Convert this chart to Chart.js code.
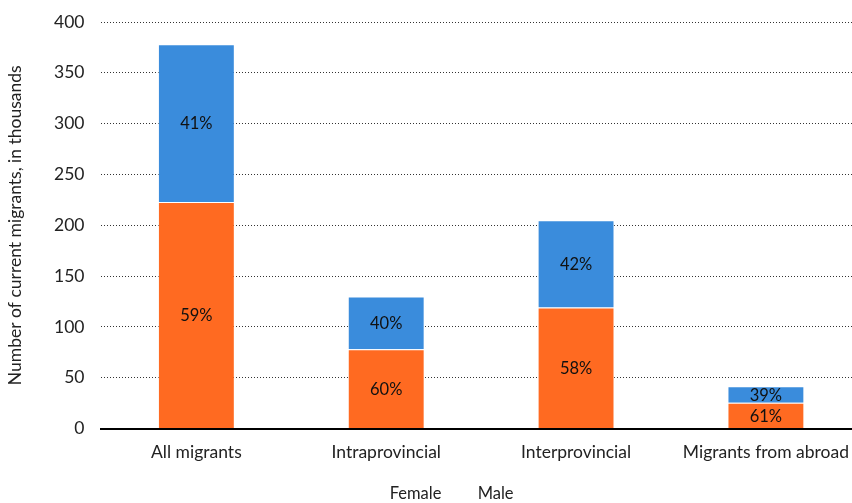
<!DOCTYPE html>
<html>
<head>
<meta charset="utf-8">
<script src="https://cdn.jsdelivr.net/npm/chart.js@4.4.1/dist/chart.umd.min.js"></script>
<style>
  html, body { margin: 0; padding: 0; background: #fff; overflow: hidden; }
  #wrap { width: 862px; height: 503px; position: relative; }
</style>
</head>
<body>
<div id="wrap"><canvas id="chart"></canvas></div>
<script>
const categories = ['All migrants', 'Intraprovincial', 'Interprovincial', 'Migrants from abroad'];
const female = [223, 78, 119, 25.3];
const male = [155, 52, 86, 16.2];
const yTicks = [0, 50, 100, 150, 200, 250, 300, 350, 400];

const FONT = 'Lato, "Open Sans", sans-serif';

// percentage share of each segment, written in the middle of the bar
const shareLabels = {
    id: 'shareLabels',
    afterDatasetsDraw(chart) {
        const ctx = chart.ctx;
        ctx.save();
        ctx.font = '16.5px ' + FONT;
        ctx.fillStyle = '#111';
        ctx.textAlign = 'center';
        ctx.textBaseline = 'middle';
        chart.data.datasets.forEach((ds, di) => {
            const meta = chart.getDatasetMeta(di);
            meta.data.forEach((bar, i) => {
                const total = female[i] + male[i];
                const pct = Math.round(ds.data[i] / total * 100) + '%';
                const mid = (bar.y + bar.base) / 2;
                ctx.fillText(pct, bar.x, mid + 1);
            });
        });
        ctx.restore();
    }
};

const ctx = document.getElementById('chart').getContext('2d');
new Chart(ctx, {
    type: 'bar',
    data: {
        labels: categories,
        datasets: [{
            label: 'Female',
            data: female,
            backgroundColor: '#FF6A21',
            borderColor: 'rgba(255,255,255,0.45)',
            borderWidth: 1,
            categoryPercentage: 1,
            barPercentage: 0.405,
        }, {
            label: 'Male',
            data: male,
            backgroundColor: '#3A8CDC',
            borderColor: 'rgba(255,255,255,0.45)',
            borderWidth: 1,
            categoryPercentage: 1,
            barPercentage: 0.405,
        }]
    },
    options: {
        responsive: true,
        maintainAspectRatio: false,
        animation: false,
        layout: { padding: { top: 0, left: 5, right: 0, bottom: -9 } },
        plugins: {
            tooltip: { enabled: false },
            legend: {
                position: 'bottom',
                labels: {
                    boxWidth: 28,
                    boxHeight: 0,
                    padding: 0,
                    color: '#222',
                    font: { family: FONT, size: 16.5 },
                    // no swatches, just the names
                    generateLabels(chart) {
                        return chart.data.datasets.map((ds, i) => ({
                            text: ds.label,
                            fillStyle: 'rgba(0,0,0,0)',
                            strokeStyle: 'rgba(0,0,0,0)',
                            lineWidth: 0,
                            fontColor: '#222',
                            datasetIndex: i,
                            hidden: false,
                        }));
                    }
                }
            }
        },
        scales: {
            x: {
                stacked: true,
                grid: { display: false, drawTicks: false },
                border: { display: true, color: '#000', width: 2 },
                ticks: {
                    color: '#222',
                    padding: 13,
                    font: { family: FONT, size: 17.5 },
                    maxRotation: 0,
                },
                afterFit(axis) {
                    axis.height += 10;
                }
            },
            y: {
                stacked: true,
                min: 0,
                max: 400,
                afterBuildTicks(axis) {
                    axis.ticks = yTicks.map(v => ({ value: v }));
                },
                afterFit(axis) {
                    // room above the top tick
                    axis.paddingTop = 22;
                },
                grid: {
                    drawTicks: false,
                    color: '#333',
                    lineWidth: 1,
                },
                border: { display: false, dash: [1, 2] },
                ticks: {
                    color: '#222',
                    padding: 17,
                    font: { family: FONT, size: 17.5 },
                },
                title: {
                    display: true,
                    text: 'Number of current migrants, in thousands',
                    color: '#222',
                    font: { family: FONT, size: 17.5 },
                    padding: { top: 0, bottom: 11 },
                }
            }
        }
    },
    plugins: [shareLabels]
});
</script>
</body>
</html>
